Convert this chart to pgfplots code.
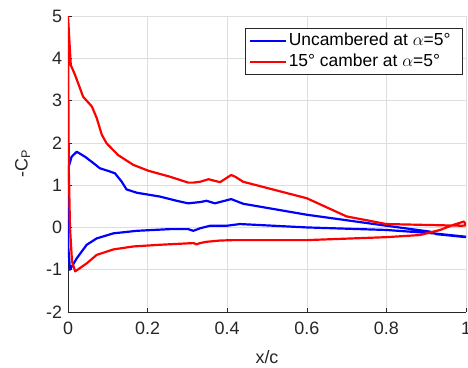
\documentclass[border=0pt]{standalone}
\usepackage{pgfplots}
\pgfplotsset{compat=1.18}
\usepackage{fontspec}
\setmainfont{Liberation Sans}
\definecolor{axgray}{HTML}{262626}
\definecolor{gridgray}{HTML}{DEDEDE}
\begin{document}
\fontsize{17.5}{20}\selectfont
\begin{tikzpicture}
\begin{axis}[
  name=ax,
  scale only axis,
  width=398bp, height=296bp,
  xmin=0, xmax=1, ymin=-2, ymax=5,
  xtick={0,0.2,0.4,0.6,0.8,1},
  ytick={-2,-1,0,1,2,3,4,5},
  xticklabels={0,0.2,0.4,0.6,0.8,1},
  axis x line*=bottom, axis y line*=left,
  axis line style={axgray, line width=0.6pt},
  tick align=inside,
  major tick length=4bp,
  tick style={axgray, line width=0.6pt},
  grid=major,
  major grid style={gridgray, line width=0.6pt},
  /pgf/number format/assume math mode=true,
  ticklabel style={font=\fontsize{18}{20}\selectfont, text=axgray},
  xticklabel style={yshift=-4bp},
  xlabel={x/c}, ylabel={-C\textsubscript{P}},
  label style={font=\fontsize{18}{20}\selectfont, text=axgray},
  xlabel style={yshift=-4bp},
  ylabel style={yshift=4bp},
  legend style={at={(rel axis cs:0.992,0.96)}, anchor=north east,
    draw=axgray, line width=0.6pt, fill=white, inner xsep=3bp, inner ysep=3bp,
    font=\fontsize{17.5}{20}\selectfont, row sep=2bp,
    legend cell align=left},
  legend image code/.code={\draw[#1, line width=2.2pt] (0bp,0bp) -- (36bp,0bp);},
]
\addplot[blue, line width=2.2pt, line join=round] coordinates {
(1.0,-0.22)(0.918,-0.14)(0.8,-0.06)(0.6,0.0)(0.432,0.08)(0.399,0.04)(0.357,0.04)
(0.332,-0.02)(0.315,-0.08)(0.302,-0.04)(0.256,-0.04)(0.173,-0.08)(0.114,-0.14)
(0.072,-0.26)(0.047,-0.41)(0.022,-0.73)(0.005,-1.0)(0.001,-0.5)(0.0,0.5)
(0.002,1.44)(0.009,1.67)(0.022,1.79)(0.043,1.67)(0.064,1.52)(0.08,1.40)
(0.106,1.32)(0.118,1.28)(0.135,1.08)(0.147,0.90)(0.173,0.82)(0.231,0.73)
(0.273,0.63)(0.302,0.57)(0.332,0.60)(0.348,0.63)(0.369,0.57)(0.41,0.67)
(0.44,0.56)(0.6,0.30)(0.8,0.04)(0.91,-0.10)(0.926,-0.16)(1.0,-0.23)
};
\addlegendentry{Uncambered at $\alpha$=5°\hspace*{7bp}}
\addplot[red, line width=2.2pt, line join=round] coordinates {
(1.0,0.05)(0.995,0.14)(0.968,0.06)(0.935,-0.06)(0.884,-0.18)(0.80,-0.23)
(0.6,-0.30)(0.415,-0.30)(0.382,-0.31)(0.348,-0.34)(0.332,-0.37)(0.323,-0.40)
(0.315,-0.37)(0.231,-0.41)(0.164,-0.45)(0.114,-0.52)(0.072,-0.65)(0.047,-0.85)
(0.018,-1.04)(0.010,-0.8)(0.005,0.0)(0.002,1.4)(0.001,3.0)(0.0,5.0)
(0.007,3.84)(0.018,3.6)(0.038,3.09)(0.06,2.86)(0.072,2.59)(0.085,2.19)
(0.097,1.99)(0.126,1.71)(0.164,1.48)(0.202,1.34)(0.256,1.20)(0.302,1.06)
(0.315,1.06)(0.332,1.08)(0.353,1.14)(0.382,1.07)(0.41,1.24)(0.42,1.20)
(0.44,1.08)(0.6,0.69)(0.70,0.26)(0.767,0.14)(0.80,0.08)(0.99,0.04)(1.0,0.05)
};
\addlegendentry{15° camber at $\alpha$=5°}
\end{axis}
\pgfresetboundingbox
\path ([shift={(-68bp,-56bp)}]ax.south west) rectangle ([shift={(2bp,16bp)}]ax.north east);
\end{tikzpicture}
\end{document}
